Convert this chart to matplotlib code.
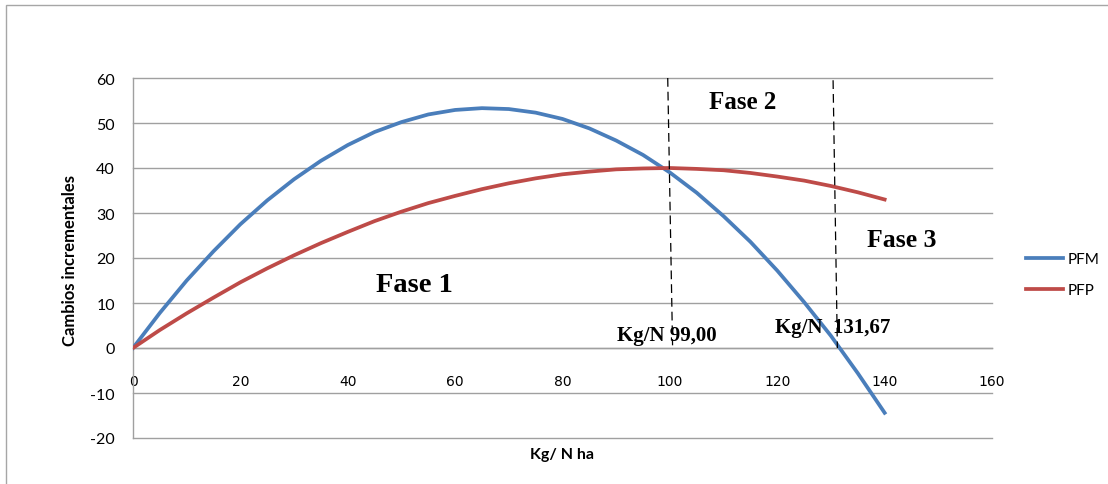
import matplotlib
matplotlib.use("Agg")
import matplotlib.pyplot as plt
from matplotlib.patches import Rectangle

# ---- data ----
x_vals = [0, 5, 10, 15, 20, 25, 30, 35, 40, 45, 50, 55, 60, 65, 70,
          75, 80, 85, 90, 95, 100, 105, 110, 115, 120, 125, 130, 135, 140]
pfm = [0.0, 7.8, 15.0, 21.5, 27.5, 32.8, 37.5, 41.6, 45.1, 48.0, 50.2, 51.9, 52.9, 53.3, 53.1,
       52.3, 50.9, 48.8, 46.1, 42.9, 39.0, 34.5, 29.3, 23.6, 17.2, 10.2, 2.7, -5.6, -14.4]
pfp = [0.0, 4.0, 7.7, 11.2, 14.6, 17.7, 20.6, 23.3, 25.8, 28.2, 30.3, 32.2, 33.8, 35.3, 36.6,
       37.7, 38.6, 39.2, 39.7, 39.9, 40.0, 39.8, 39.5, 38.9, 38.1, 37.2, 36.0, 34.6, 33.0]
series_names = ["PFM", "PFP"]
x_ticks = [0, 20, 40, 60, 80, 100, 120, 140, 160]
y_ticks = [-20, -10, 0, 10, 20, 30, 40, 50, 60]
# phase boundary dashed lines (x_top, y_top, x_bottom, y_bottom)
phase_lines = [(99.6, 60.0, 100.5, 0.6), (130.4, 59.5, 131.2, 0.0)]
phase_labels = ["Fase 1", "Fase 2", "Fase 3"]
point_labels = ["Kg/N 99,00", "Kg/N  131,67"]

W, H, DPI = 1108, 485, 100
fig = plt.figure(figsize=(W / DPI, H / DPI), dpi=DPI)
fig.patch.set_facecolor("white")

# outer chart-area border (extends past right/bottom edges)
fig.add_artist(Rectangle((6 / W, -0.05), 1.2, 1 - 6 / H + 0.05,
                         transform=fig.transFigure, fill=False,
                         edgecolor="#A6A6A6", linewidth=1.0))

ax = fig.add_axes([133 / W, 1 - 439 / H, (992 - 133) / W, (439 - 79) / H])

grid_col = "#A0A0A0"
blue = "#4A7EBB"
red = "#BE4B48"
tick_font = "Lato"

ax.plot(x_vals, pfm, color=blue, lw=2.7, label=series_names[0], solid_joinstyle="round", zorder=3)
ax.plot(x_vals, pfp, color=red, lw=2.7, label=series_names[1], solid_joinstyle="round", zorder=3)

ax.set_xlim(0, 160)
ax.set_ylim(-20, 60)
ax.set_xticks(x_ticks)
ax.set_yticks(y_ticks)
ax.set_xticklabels([str(v) for v in x_ticks], fontfamily=tick_font, fontsize=11.5)
ax.set_yticklabels([str(v) for v in y_ticks], fontfamily=tick_font, fontsize=11.5)

ax.yaxis.grid(True, color=grid_col, lw=1.0)
for gl in ax.get_ygridlines():
    gl.set_clip_on(False)
ax.set_axisbelow(True)

for s in ["top", "right"]:
    ax.spines[s].set_visible(False)
ax.spines["left"].set_color(grid_col)
ax.spines["left"].set_linewidth(1.0)
ax.spines["bottom"].set_position(("data", 0))
ax.spines["bottom"].set_color(grid_col)
ax.spines["bottom"].set_linewidth(1.0)
ax.tick_params(axis="y", length=0, pad=13, colors="black")
ax.tick_params(axis="x", length=0, pad=19, colors="black")

# phase boundary lines
for (x0, y0, x1, y1) in phase_lines:
    ax.plot([x0, x1], [y0, y1], color="black", lw=0.9, ls=(0, (7, 4)), zorder=4, clip_on=False)

serif = "Liberation Serif"
ax.text(52.5, 12.7, phase_labels[0], fontfamily=serif, fontweight="bold", fontsize=20.5,
        ha="center", va="baseline")
ax.text(113.6, 53.3, phase_labels[1], fontfamily=serif, fontweight="bold", fontsize=18,
        ha="center", va="baseline")
ax.text(143.2, 22.7, phase_labels[2], fontfamily=serif, fontweight="bold", fontsize=18.5,
        ha="center", va="baseline")
ax.text(90.1, 1.8, point_labels[0], fontfamily=serif, fontweight="bold", fontsize=15,
        ha="left", va="baseline", zorder=5)
ax.text(119.6, 3.6, point_labels[1], fontfamily=serif, fontweight="bold", fontsize=15,
        ha="left", va="baseline", zorder=5)

# axis titles
fig.text(70 / W, 1 - 260 / H, "Cambios incrementales", rotation=90, ha="center", va="center",
         fontfamily=tick_font, fontweight="bold", fontsize=12)
fig.text(562 / W, 1 - 455 / H, "Kg/ N ha", ha="center", va="center",
         fontfamily=tick_font, fontweight="bold", fontsize=11.5)

leg = fig.legend(loc="center left", bbox_to_anchor=(1026 / W, 1 - 275.5 / H),
                 frameon=False, borderpad=0, borderaxespad=0, handlelength=2.4,
                 handletextpad=0.3, labelspacing=1.1, prop={"family": tick_font, "size": 11})

fig.savefig("out.png", dpi=DPI, facecolor="white")
